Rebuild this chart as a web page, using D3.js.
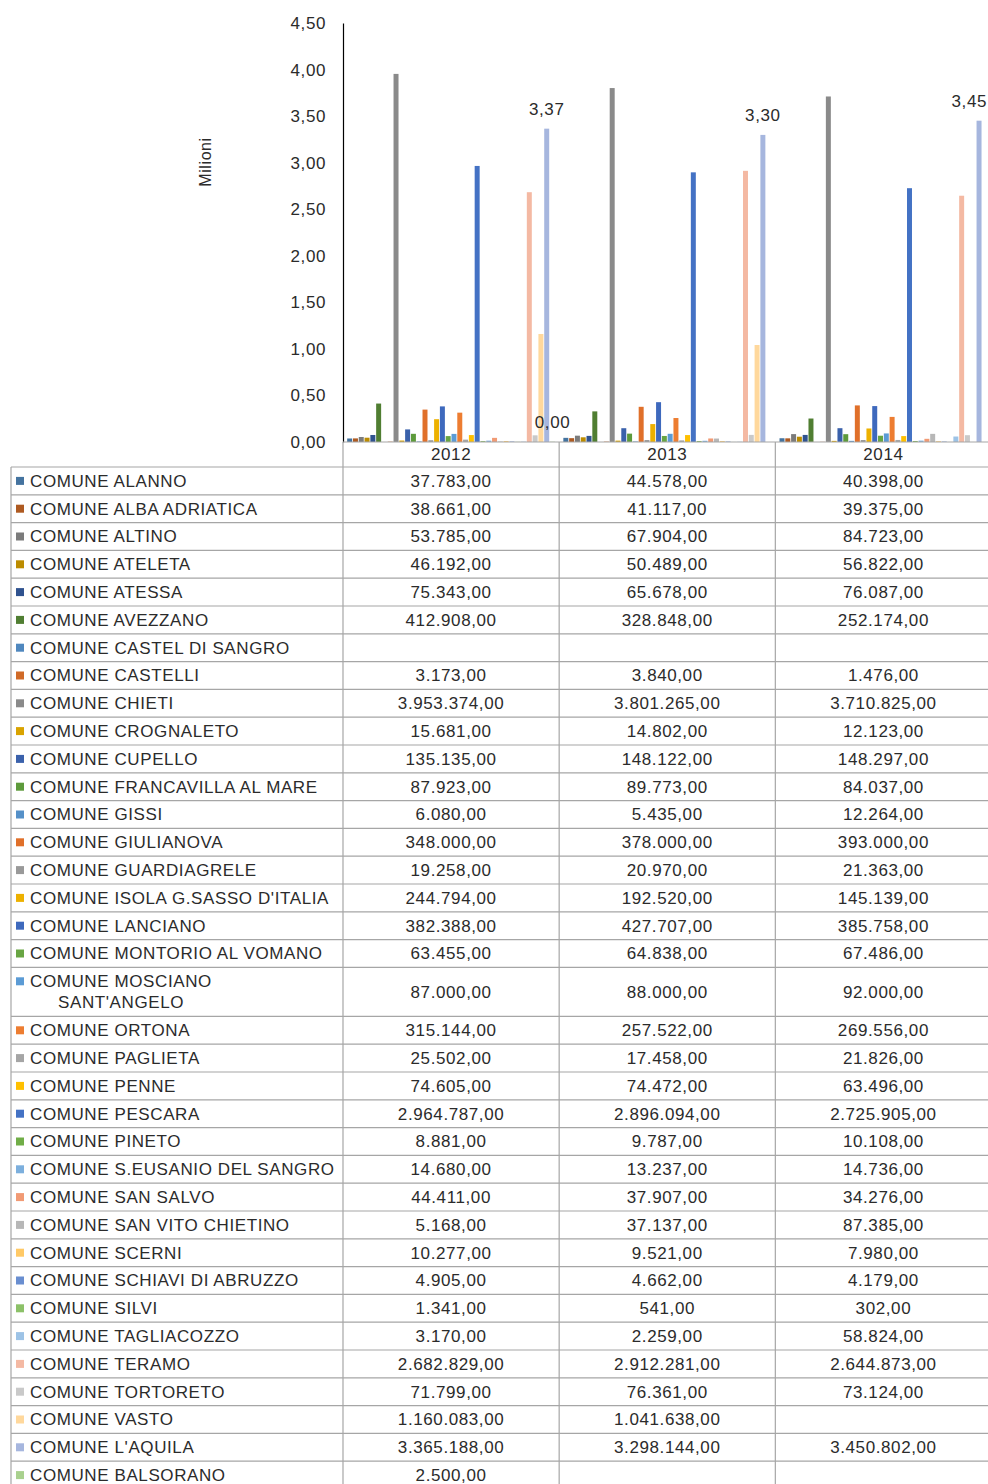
<!DOCTYPE html>
<html>
<head>
<meta charset="utf-8">
<script src="https://cdn.jsdelivr.net/npm/d3@7"></script>
<style>
  html, body { margin: 0; padding: 0; background: #fff; }
  svg { display: block; font-family: "Liberation Sans", Arial, sans-serif; letter-spacing: 0.6px; }
</style>
</head>
<body>
<svg id="chart" width="988" height="1484"></svg>
<script>
// Data (euro per comune, per anno) — null = cella vuota
const years = ['2012', '2013', '2014'];

const comuni = [
    'COMUNE ALANNO', 'COMUNE ALBA ADRIATICA', 'COMUNE ALTINO', 'COMUNE ATELETA',
    'COMUNE ATESSA', 'COMUNE AVEZZANO', 'COMUNE CASTEL DI SANGRO', 'COMUNE CASTELLI',
    'COMUNE CHIETI', 'COMUNE CROGNALETO', 'COMUNE CUPELLO', 'COMUNE FRANCAVILLA AL MARE',
    'COMUNE GISSI', 'COMUNE GIULIANOVA', 'COMUNE GUARDIAGRELE', "COMUNE ISOLA G.SASSO D'ITALIA",
    'COMUNE LANCIANO', 'COMUNE MONTORIO AL VOMANO', "COMUNE MOSCIANO\nSANT'ANGELO", 'COMUNE ORTONA',
    'COMUNE PAGLIETA', 'COMUNE PENNE', 'COMUNE PESCARA', 'COMUNE PINETO',
    'COMUNE S.EUSANIO DEL SANGRO', 'COMUNE SAN SALVO', 'COMUNE SAN VITO CHIETINO', 'COMUNE SCERNI',
    'COMUNE SCHIAVI DI ABRUZZO', 'COMUNE SILVI', 'COMUNE TAGLIACOZZO', 'COMUNE TERAMO',
    'COMUNE TORTORETO', 'COMUNE VASTO', "COMUNE L'AQUILA", 'COMUNE BALSORANO'
];

const values2012 = [
    37783, 38661, 53785, 46192, 75343, 412908, null, 3173,
    3953374, 15681, 135135, 87923, 6080, 348000, 19258, 244794,
    382388, 63455, 87000, 315144, 25502, 74605, 2964787, 8881,
    14680, 44411, 5168, 10277, 4905, 1341, 3170, 2682829,
    71799, 1160083, 3365188, 2500
];
const values2013 = [
    44578, 41117, 67904, 50489, 65678, 328848, null, 3840,
    3801265, 14802, 148122, 89773, 5435, 378000, 20970, 192520,
    427707, 64838, 88000, 257522, 17458, 74472, 2896094, 9787,
    13237, 37907, 37137, 9521, 4662, 541, 2259, 2912281,
    76361, 1041638, 3298144, null
];
const values2014 = [
    40398, 39375, 84723, 56822, 76087, 252174, null, 1476,
    3710825, 12123, 148297, 84037, 12264, 393000, 21363, 145139,
    385758, 67486, 92000, 269556, 21826, 63496, 2725905, 10108,
    14736, 34276, 87385, 7980, 4179, 302, 58824, 2644873,
    73124, null, 3450802, null
];

const seriesColors = [
    '#44739f', '#ae5a21', '#7b7b7b', '#bc8c00', '#2f528f', '#507e32',
    '#4f87be', '#d06a27', '#8a8a8a', '#d9a300', '#3a61ab', '#5d9a3b',
    '#5590c8', '#e0702a', '#999999', '#edb100', '#3e69bd', '#68a543',
    '#5b9bd5', '#ed7d31', '#a5a5a5', '#ffc000', '#4472c4', '#70ad47',
    '#7cafdd', '#f19a74', '#b7b7b7', '#ffc966', '#698ed0', '#8cc168',
    '#9dc3e6', '#f4b9a3', '#c9c9c9', '#ffd89c', '#a6b6de', '#a9d18e'
];

const yTicks = [0, 0.5, 1, 1.5, 2, 2.5, 3, 3.5, 4, 4.5];
const labelledSeries = [34, 35]; // L'Aquila e Balsorano hanno le etichette dati

const valuesByYear = { '2012': values2012, '2013': values2013, '2014': values2014 };

// Italian number format
const it = d3.formatLocale({ decimal: ',', thousands: '.', grouping: [3], currency: ['€', ''] });
const fmtTable = it.format(',.2f');
const fmtAxis = it.format('.2f');

const svg = d3.select('#chart');
const textColor = '#2b2b2b';
const gridColor = '#a6a6a6';
const fontSize = 17;
const W = 988;

// Layout
const plotLeft = 343, plotRight = 991.5;
const plotTop = 23, plotBottom = 442;
const tableTop = 467, tableLeft = 11;
const rowH = 27.8, extraLineH = 21.2;

const x0 = d3.scaleBand().domain(years).range([plotLeft, plotRight]).padding(0);
const x1 = d3.scaleBand().domain(d3.range(comuni.length)).range([0, x0.bandwidth()])
    .paddingInner(0.14).paddingOuter(0.72);
const y = d3.scaleLinear().domain([0, 4.5]).range([plotBottom, plotTop]);

// Bars
const barG = svg.append('g');
years.forEach(yr => {
    valuesByYear[yr].forEach((v, i) => {
        if (v == null) return;
        const m = v / 1e6;
        barG.append('rect')
            .attr('x', x0(yr) + x1(i))
            .attr('y', y(m))
            .attr('width', x1.bandwidth())
            .attr('height', plotBottom - y(m))
            .attr('fill', seriesColors[i]);
    });
});

// Data labels (kept inside the picture like Excel does)
years.forEach(yr => {
    labelledSeries.forEach(i => {
        const v = valuesByYear[yr][i];
        if (v == null) return;
        const m = v / 1e6;
        const t = svg.append('text')
            .attr('x', x0(yr) + x1(i) + x1.bandwidth() / 2)
            .attr('y', y(m) - 20)
            .attr('dy', '0.35em')
            .attr('text-anchor', 'middle')
            .attr('font-size', fontSize)
            .attr('fill', textColor)
            .text(fmtAxis(m));
        const bb = t.node().getBBox();
        if (bb.x + bb.width > W - 1) {
            t.attr('x', +t.attr('x') - (bb.x + bb.width - (W - 1)));
        }
    });
});

// Y axis
const yAxis = svg.append('g')
    .attr('transform', `translate(${plotLeft},0)`)
    .call(d3.axisLeft(y).tickValues(yTicks).tickSize(0).tickPadding(17).tickFormat(fmtAxis));
yAxis.select('.domain').attr('stroke', '#000').attr('stroke-width', 1.2);
yAxis.selectAll('text')
    .attr('font-size', fontSize)
    .attr('font-family', '"Liberation Sans", Arial, sans-serif')
    .attr('fill', textColor);

svg.append('text')
    .attr('transform', `translate(205,162) rotate(-90)`)
    .attr('text-anchor', 'middle')
    .attr('dy', '0.35em')
    .attr('font-size', 16)
    .attr('fill', textColor)
    .text('Milioni');

// Table rows
const rows = [];
let cursor = tableTop;
comuni.forEach((name, i) => {
    const lines = name.split('\n');
    const h = rowH + (lines.length - 1) * extraLineH;
    rows.push({ i, lines, top: cursor, h });
    cursor += h;
});
const tableBottom = cursor + rowH;

const grid = svg.append('g').attr('stroke', gridColor).attr('stroke-width', 1.2);
// x baseline of the plot
grid.append('line').attr('x1', plotLeft).attr('x2', plotRight).attr('y1', plotBottom).attr('y2', plotBottom);
// horizontal row lines
grid.append('line').attr('x1', tableLeft).attr('x2', plotRight).attr('y1', tableTop).attr('y2', tableTop);
rows.forEach(r => {
    grid.append('line').attr('x1', tableLeft).attr('x2', plotRight)
        .attr('y1', r.top + r.h).attr('y2', r.top + r.h);
});
// vertical lines
grid.append('line').attr('x1', tableLeft).attr('x2', tableLeft).attr('y1', tableTop).attr('y2', tableBottom);
years.forEach(yr => {
    grid.append('line').attr('x1', x0(yr)).attr('x2', x0(yr)).attr('y1', plotBottom).attr('y2', tableBottom);
});
grid.append('line').attr('x1', plotRight).attr('x2', plotRight).attr('y1', plotBottom).attr('y2', tableBottom);

// Year header
years.forEach(yr => {
    svg.append('text')
        .attr('x', x0(yr) + x0.bandwidth() / 2)
        .attr('y', (plotBottom + tableTop) / 2)
        .attr('dy', '0.35em')
        .attr('text-anchor', 'middle')
        .attr('font-size', fontSize)
        .attr('fill', textColor)
        .text(yr);
});

// Row contents
rows.forEach(r => {
    const firstY = r.top + rowH / 2;
    svg.append('rect')
        .attr('x', 16).attr('y', firstY - 4)
        .attr('width', 8).attr('height', 8)
        .attr('fill', seriesColors[r.i]);
    r.lines.forEach((ln, k) => {
        svg.append('text')
            .attr('x', k === 0 ? 30 : 58)
            .attr('y', firstY + k * extraLineH)
            .attr('dy', '0.35em')
            .attr('font-size', fontSize)
            .attr('fill', textColor)
            .text(ln);
    });
    years.forEach(yr => {
        const v = valuesByYear[yr][r.i];
        if (v == null) return;
        svg.append('text')
            .attr('x', x0(yr) + x0.bandwidth() / 2)
            .attr('y', r.top + r.h / 2)
            .attr('dy', '0.35em')
            .attr('text-anchor', 'middle')
            .attr('font-size', fontSize)
            .attr('fill', textColor)
            .text(fmtTable(v));
    });
});
</script>
</body>
</html>
